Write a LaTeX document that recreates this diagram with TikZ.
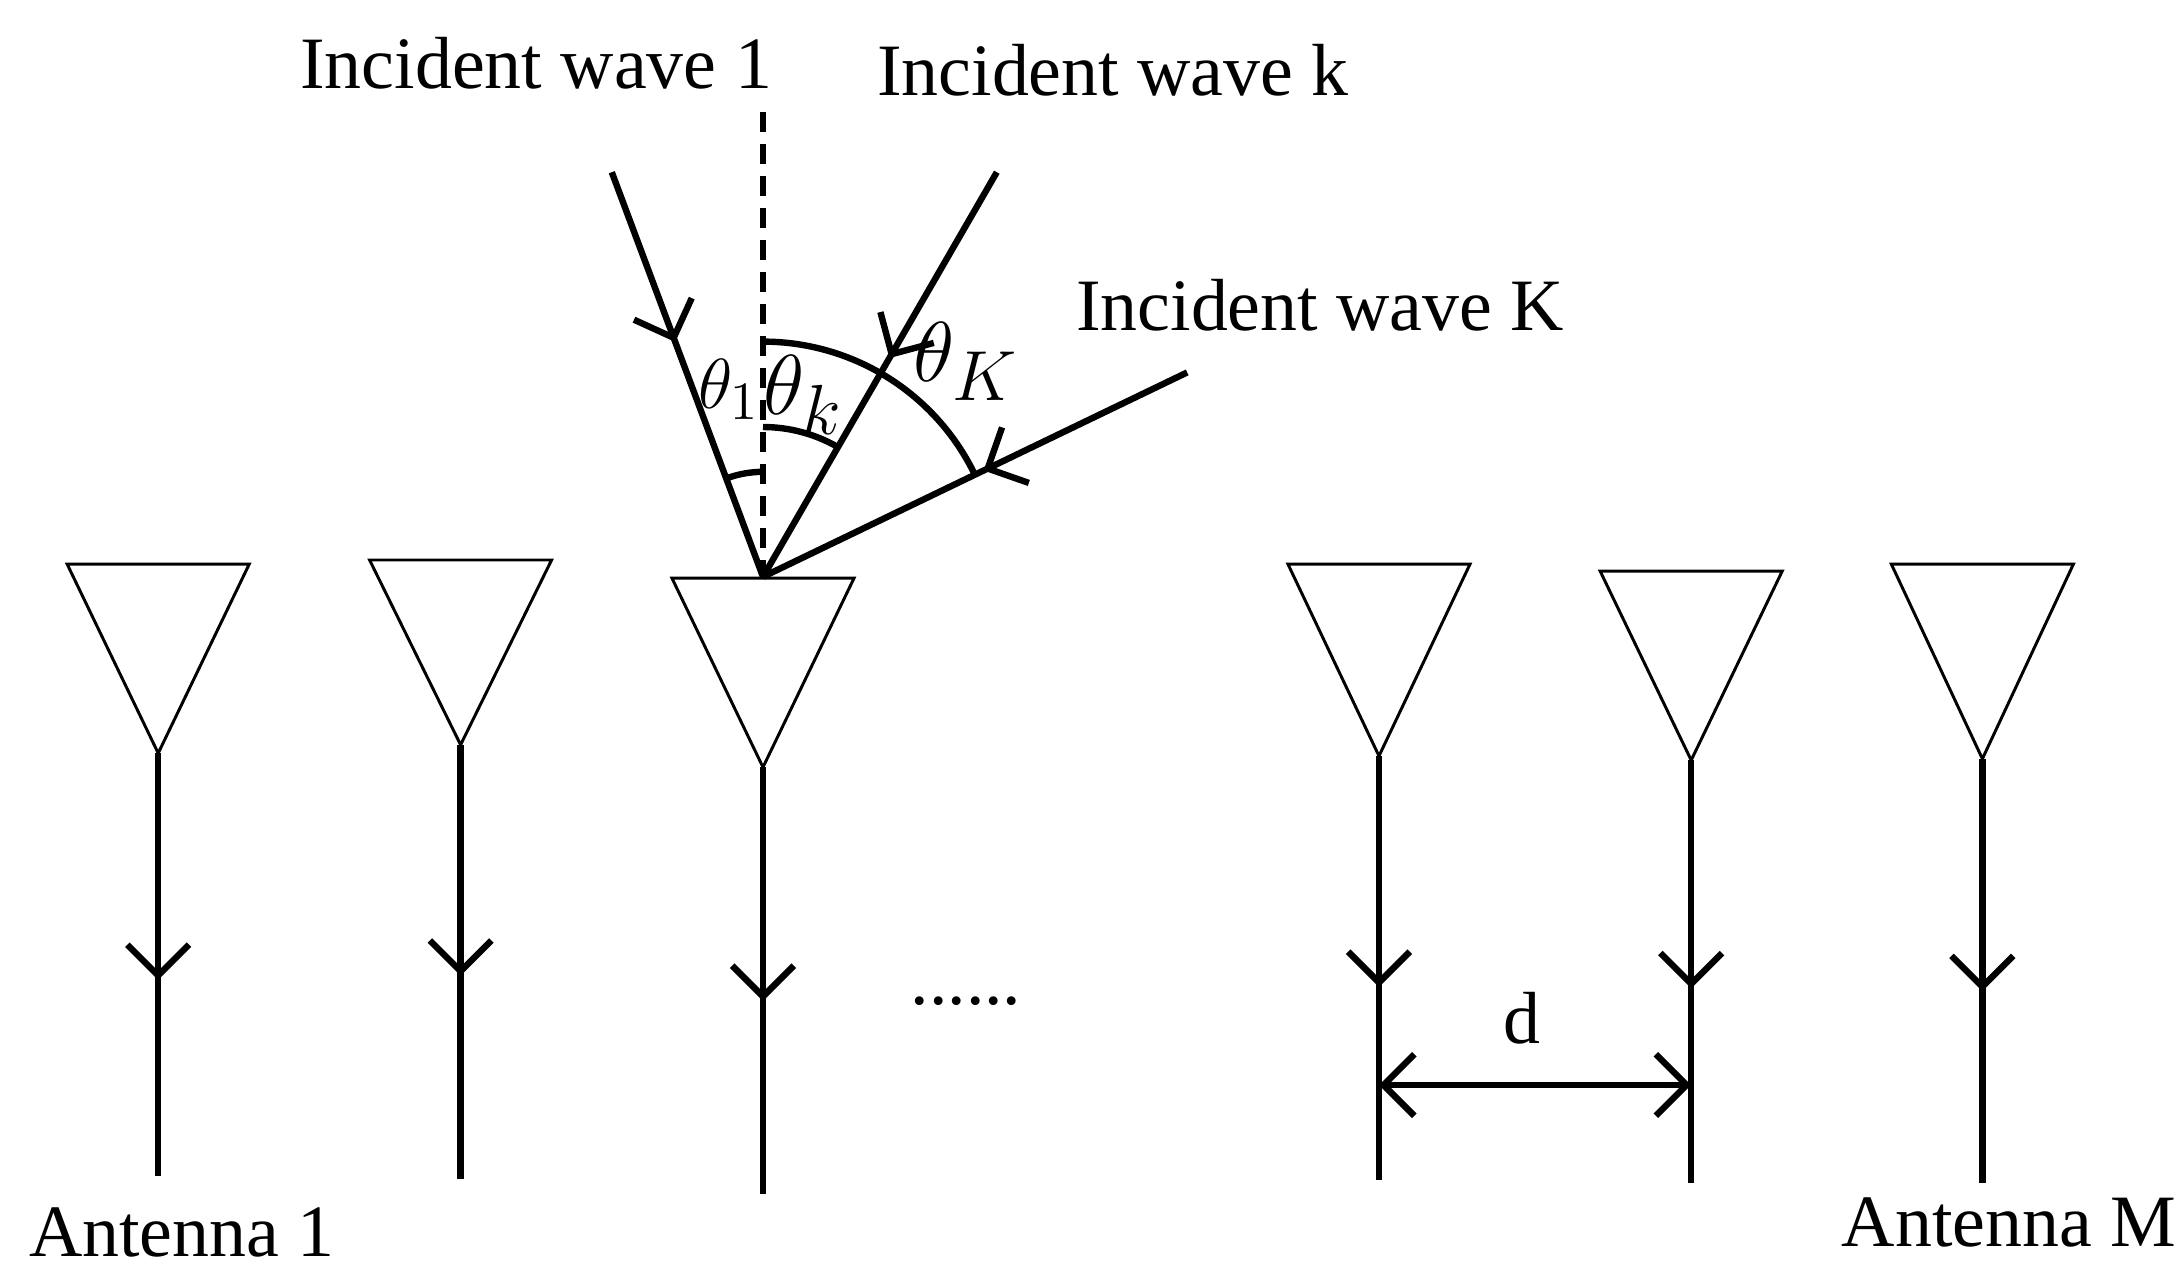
\documentclass[tikz,border=0pt]{standalone}
\usepackage{fontspec}
\setmainfont{Liberation Serif}
\usetikzlibrary{arrows.meta,decorations.markings}
\begin{document}
\begin{tikzpicture}[x=0.01cm,y=-0.01cm,
  lbl/.style={font=\fontsize{15}{18}\selectfont,inner sep=0pt},
  feed/.style={line width=1.3pt},
  tri/.style={line width=0.6pt},
  chev/.style={postaction={decorate},decoration={markings,mark=at position #1 with {\arrow{Straight Barb[length=2.2mm,width=4.4mm,line width=1.3pt]}}}}]
\useasboundingbox (0,0) rectangle (1558.6,917);
% antennas
\foreach \n/\x/\t/\a/\b/\m in {1/113/403/538/840/700, 2/329/400/532/842/697, 3/545/413/548/853/715, 4/985/403/540/843/705, 5/1208/408/543/845/706, 6/1416/403/542/845/708}{
  \coordinate (tl\n) at (\x-65,\t);
  \coordinate (tr\n) at (\x+65,\t);
  \coordinate (ap\n) at (\x,\a);
  \coordinate (mk\n) at (\x,\m);
  \coordinate (bt\n) at (\x,\b);
  \draw[tri] (tl\n) -- (tr\n) -- (ap\n) -- cycle;
  \draw[feed] (ap\n) -- (bt\n);
  \draw[feed,-{Straight Barb[length=2.2mm,width=4.4mm,line width=1.3pt]}] (ap\n) -- (mk\n);
}
\node[lbl] (a1) at (130,880) {Antenna 1};
\node[lbl] (aM) at (1435,873) {Antenna M};
\node[lbl] (dots) at (690,715) {......};
% spacing d
\coordinate (d1) at (985,775);
\coordinate (d2) at (1208,775);
\draw[feed,{Straight Barb[length=2.2mm,width=4.4mm,line width=1.3pt]}-{Straight Barb[length=2.2mm,width=4.4mm,line width=1.3pt]}] (d1) -- (d2);
\node[lbl] (d) at (1087,727) {d};
% incident waves
\coordinate (O) at (545,412);
\coordinate (n) at (545,80);
\coordinate (w1) at (437,123);
\coordinate (wk) at (712,123);
\coordinate (wK) at (848,266);
\draw[line width=1.3pt,dash pattern=on 4pt off 2.5pt] (n) -- (O);
\draw[feed,chev=0.42] (w1) -- (O);
\draw[feed,chev=0.46] (wk) -- (O);
\draw[feed,chev=0.48] (wK) -- (O);
% angle arcs
\draw[feed] (O) ++(-90:75) arc[start angle=-90,end angle=-110.5,radius=75];
\draw[feed] (O) ++(-90:107) arc[start angle=-90,end angle=-60,radius=107];
\draw[feed] (O) ++(-90:168) arc[start angle=-90,end angle=-25.7,radius=168];
% labels
\node[lbl] (l1) at (383,45) {Incident wave 1};
\node[lbl] (lk) at (795,50) {Incident wave k};
\node[lbl] (lK) at (943,218) {Incident wave K};
\node[lbl] (t1) at (521,278) {$\theta_{1}$};
\node[lbl,font=\fontsize{19}{22}\selectfont] (tk) at (574,282) {$\theta_{k}$};
\node[lbl,font=\fontsize{19}{22}\selectfont] (tK) at (690,258) {$\theta_{K}$};
\end{tikzpicture}
\end{document}
